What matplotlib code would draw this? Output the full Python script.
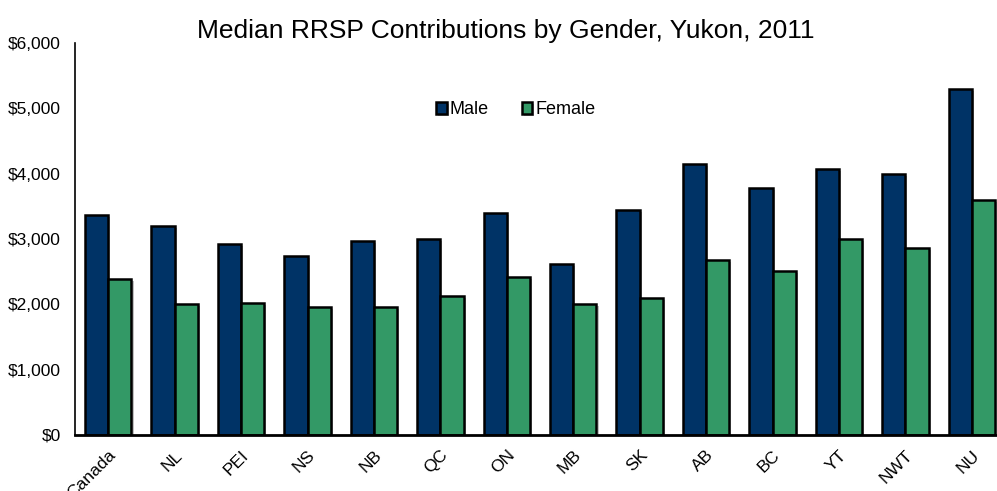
import matplotlib.pyplot as plt
import matplotlib.patheffects as pe
import numpy as np

plt.rcParams["font.family"] = ["Liberation Sans", "DejaVu Sans"]

# 数据
regions = ["Canada", "NL", "PEI", "NS", "NB", "QC", "ON", "MB", "SK", "AB", "BC", "YT", "NWT", "NU"]
male = [3367, 3204, 2923, 2735, 2974, 3000, 3403, 2612, 3439, 4143, 3781, 4071, 4000, 5301]
female = [2388, 2000, 2020, 1959, 1954, 2122, 2418, 2000, 2102, 2684, 2505, 3000, 2867, 3597]

fig = plt.figure(figsize=(9.97, 4.91), dpi=100)
ax = fig.add_axes([75 / 997, 56 / 491, 930 / 997, 392 / 491])

x = np.arange(len(regions))
w = 0.35
shadow = [pe.SimplePatchShadow(offset=(1.5, -1.5), shadow_rgbFace="#999999", alpha=0.6), pe.Normal()]
ax.bar(x - w / 2, male, w, color="#003366", edgecolor="black", linewidth=1.8,
       label="Male", path_effects=shadow)
ax.bar(x + w / 2, female, w, color="#339966", edgecolor="black", linewidth=1.8,
       label="Female", path_effects=shadow)

ax.set_xlim(-0.5, len(regions) - 0.5)
ax.set_ylim(0, 6000)
ax.set_yticks(range(0, 6001, 1000))
ax.set_yticklabels([f"${v:,}" for v in range(0, 6001, 1000)], fontsize=12.5)
ax.set_xticks(x)
ax.set_xticklabels(regions, rotation=45, ha="right", rotation_mode="anchor", fontsize=12.5)
ax.tick_params(axis="y", length=0, pad=10)
ax.tick_params(axis="x", length=0, pad=9)

for s in ["top", "right"]:
    ax.spines[s].set_visible(False)
ax.spines["left"].set_linewidth(1.2)
ax.spines["bottom"].set_linewidth(2)

fig.text(0.507, 0.937, "Median RRSP Contributions by Gender, Yukon, 2011",
         ha="center", va="center", fontsize=19)

ax.legend(loc="center", bbox_to_anchor=(0.474, 0.83), ncol=2, frameon=False,
          fontsize=13, handlelength=0.6, handleheight=0.6, handletextpad=0.15,
          columnspacing=1.8)

fig.savefig("out.png", dpi=100)
